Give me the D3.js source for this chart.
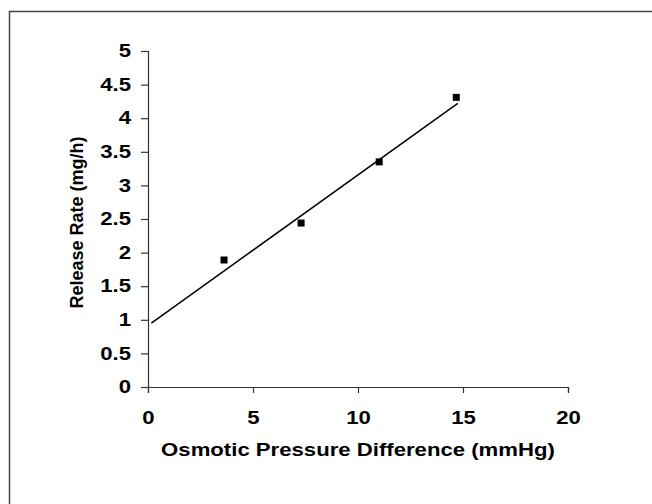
<!DOCTYPE html>
<html>
<head>
<meta charset="utf-8">
<title>release rate</title>
<script src="https://cdn.jsdelivr.net/npm/d3@7"></script>
<style>
  body { margin: 0; background: #fff; }
  text { font-family: "Liberation Sans", Arial, sans-serif; font-weight: bold; }
</style>
</head>
<body>
<div id="container"></div>
<script>
  // measured points
  var pressure = [3.62, 7.29, 11.01, 14.68];
  var rate = [1.89, 2.44, 3.35, 4.31];
  // fitted line ends
  var fitX = [0.16, 14.75];
  var fitY = [0.952, 4.22];
  var xTicks = [0, 5, 10, 15, 20];
  var yTicks = [0, 0.5, 1, 1.5, 2, 2.5, 3, 3.5, 4, 4.5, 5];

  var W = 652, H = 504;
  var margin = {top: 51, right: 84, bottom: 117, left: 148},
      width = W - margin.left - margin.right,
      height = H - margin.top - margin.bottom;
  var stretch = 1.23; // source picture text is wide

  var svg = d3.select("#container").append("svg")
      .attr("width", W)
      .attr("height", H);

  // frame (right/bottom edges fall off the page)
  svg.append("rect")
      .attr("x", 9.5).attr("y", 11.5)
      .attr("width", W).attr("height", H)
      .attr("fill", "none")
      .attr("stroke", "#444")
      .attr("stroke-width", 1.5);

  var xScale = d3.scaleLinear().domain([0, 20]).range([0, width]);
  var yScale = d3.scaleLinear().domain([0, 5]).range([height, 0]);

  var g = svg.append("g")
      .attr("transform", "translate(" + margin.left + "," + margin.top + ")");

  var xAxis = d3.axisBottom(xScale).tickValues(xTicks).tickSize(6).tickPadding(18).tickFormat(d3.format("d"));
  var yAxis = d3.axisLeft(yScale).tickValues(yTicks).tickSize(7).tickPadding(10).tickFormat(function(d){ return String(d); });

  g.append("g").attr("transform", "translate(0," + height + ")").call(xAxis);
  g.append("g").call(yAxis);

  g.selectAll(".domain, .tick line").attr("stroke", "#333").attr("stroke-width", 1.2);
  g.selectAll(".tick text").attr("font-size", 18).attr("fill", "#000")
    .attr("font-family", "Liberation Sans, Arial, sans-serif").attr("font-weight", "bold");

  var fit = fitX.map(function(x, i){ return [x, fitY[i]]; });
  g.append("path")
      .datum(fit)
      .attr("d", d3.line().x(d => xScale(d[0])).y(d => yScale(d[1])))
      .attr("stroke", "#000")
      .attr("stroke-width", 1.5)
      .attr("fill", "none");

  var pts = pressure.map(function(x, i){ return [x, rate[i]]; });
  g.selectAll(".pt").data(pts).enter().append("rect")
      .attr("class", "pt")
      .attr("x", d => xScale(d[0]) - 3.5)
      .attr("y", d => yScale(d[1]) - 3.5)
      .attr("width", 7).attr("height", 7)
      .attr("fill", "#000");

  g.append("text")
      .attr("class", "wide")
      .attr("x", width / 2)
      .attr("y", height + 69)
      .attr("text-anchor", "middle")
      .attr("font-size", 18)
      .text("Osmotic Pressure Difference (mmHg)");

  g.append("text")
      .attr("transform", "rotate(-90)")
      .attr("x", -171.5)
      .attr("y", -65)
      .attr("text-anchor", "middle")
      .attr("font-size", 18)
      .text("Release Rate (mg/h)");

  // widen horizontal labels
  g.selectAll(".tick text, text.wide").each(function(){
    var len = this.getComputedTextLength();
    d3.select(this).attr("textLength", len * stretch).attr("lengthAdjust", "spacingAndGlyphs");
  });
</script>
</body>
</html>
